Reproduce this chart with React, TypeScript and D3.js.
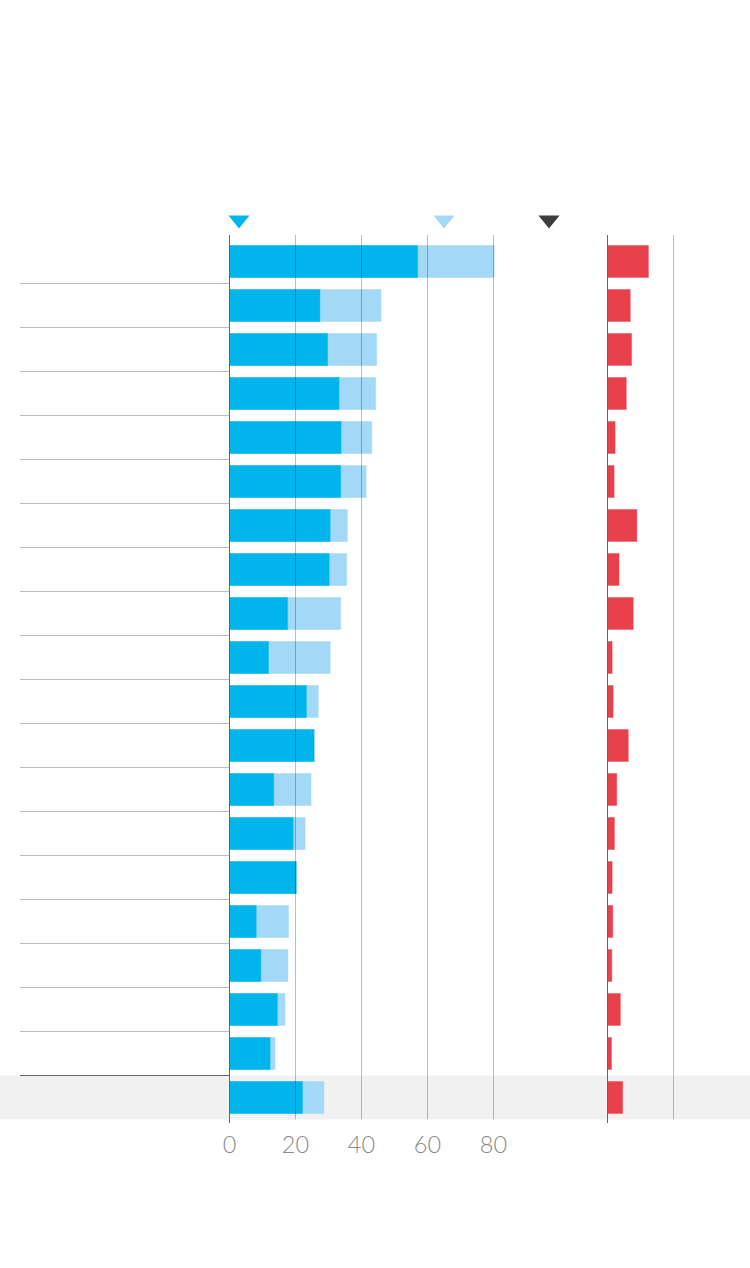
import React from "react";
import * as d3 from "d3";

const rows = d3.range(20).map((i) => `r${i + 1}`);
const darkValues = [57.0, 27.4, 29.7, 33.2, 33.8, 33.7, 30.5, 30.2, 17.6, 11.8, 23.3, 25.6, 13.4, 19.3, 20.2, 8.1, 9.5, 14.5, 12.3, 22.1];
const totalValues = [80.2, 45.9, 44.6, 44.3, 43.1, 41.4, 35.7, 35.5, 33.7, 30.5, 26.9, 25.8, 24.7, 22.9, 20.3, 17.9, 17.7, 16.8, 13.8, 28.6];
const redValues = [12.4, 6.9, 7.3, 5.7, 2.3, 2.0, 8.9, 3.5, 7.8, 1.4, 1.7, 6.3, 2.8, 2.1, 1.4, 1.6, 1.3, 3.9, 1.2, 4.6];
const ticks = [0, 20, 40, 60, 80];
const redTicks = [0, 20];

const W = 750;
const H = 1268;
const DARK = "#00b5ec";
const LIGHT = "#a3d9f7";
const RED = "#e8414b";

export default function App() {
  const x = d3.scaleLinear().domain([0, 80]).range([229.5, 493.5]);
  const xr = d3.scaleLinear().domain([0, 20]).range([607.5, 673.5]);
  const y = d3.scaleBand<string>().domain(rows).range([239.5, 1119.5]).padding(0);
  const bh = 32;
  const off = (y.bandwidth() - bh) / 2;
  const gridTop = 235;
  const gridBottom = 1119.5;
  const last = rows[rows.length - 1];

  const tri = (cx: number, color: string) => (
    <path d={`M${cx - 10.5},215.5 L${cx + 10.5},215.5 L${cx},228.5 Z`} fill={color} />
  );

  return (
    <svg width={W} height={H} style={{ position: "absolute", left: 0, top: 0, background: "#fff" }}>
      {/* highlighted last row */}
      <rect x={0} y={y(last)!} width={W} height={y.bandwidth()} fill="#f1f1f1" />

      {/* row separators */}
      {rows.slice(1).map((r, i) => (
        <line
          key={r}
          x1={20}
          x2={x(0)}
          y1={y(r)!}
          y2={y(r)!}
          stroke={r === last ? "#666" : "#bbb"}
          strokeWidth={1}
        />
      ))}

      {/* legend triangles */}
      {tri(239, DARK)}
      {tri(444, LIGHT)}
      {tri(549, "#3d3d3d")}

      {/* blue bars */}
      {rows.map((r, i) => (
        <g key={r}>
          <rect
            x={x(0)}
            y={y(r)! + off}
            width={x(totalValues[i]) - x(0)}
            height={bh}
            fill={LIGHT}
            stroke={LIGHT}
            strokeOpacity={0.5}
            strokeWidth={1}
          />
          <rect
            x={x(0)}
            y={y(r)! + off}
            width={x(darkValues[i]) - x(0)}
            height={bh}
            fill={DARK}
            stroke={DARK}
            strokeOpacity={0.4}
            strokeWidth={1}
          />
        </g>
      ))}

      {/* red bars */}
      {rows.map((r, i) => (
        <rect
          key={r}
          x={xr(0)}
          y={y(r)! + off}
          width={xr(redValues[i]) - xr(0)}
          height={bh}
          fill={RED}
          stroke={RED}
          strokeOpacity={0.4}
          strokeWidth={1}
        />
      ))}

      {/* gridlines */}
      {ticks.slice(1).map((t) => (
        <line key={t} x1={x(t)} x2={x(t)} y1={gridTop} y2={gridBottom} stroke="rgba(0,0,0,0.26)" strokeWidth={1} />
      ))}
      {redTicks.slice(1).map((t) => (
        <line key={t} x1={xr(t)} x2={xr(t)} y1={gridTop} y2={gridBottom} stroke="rgba(0,0,0,0.26)" strokeWidth={1} />
      ))}

      {/* zero lines */}
      <line x1={x(0)} x2={x(0)} y1={gridTop} y2={1123} stroke="#666" strokeWidth={1} />
      <line x1={xr(0)} x2={xr(0)} y1={gridTop} y2={1123} stroke="#666" strokeWidth={1} />

      {/* tick labels */}
      {ticks.map((t) => (
        <text
          key={t}
          x={x(t)}
          y={1153}
          textAnchor="middle"
          fill="#8a8a8a"
          fontFamily="Lato, 'Open Sans', sans-serif"
          fontWeight={300}
          fontSize={23.5}
        >
          {t}
        </text>
      ))}
    </svg>
  );
}
